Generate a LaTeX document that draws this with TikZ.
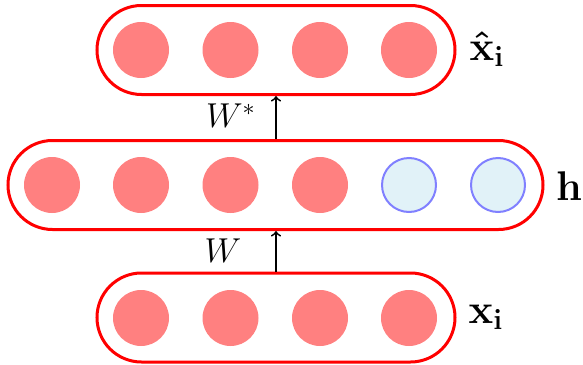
\documentclass[tikz,border=0pt]{standalone}
\usepackage{amsmath,amssymb}
\usepackage{tikz}
\usetikzlibrary{shapes.misc}
\definecolor{paleblue}{RGB}{225,242,248}

\begin{document}
\begin{tikzpicture}[x=0.5pt,y=-0.5pt,
  unit/.style={circle,fill=red!50,minimum size=28pt,inner sep=0pt},
  extra/.style={circle,draw=blue!50,fill=paleblue,line width=1pt,minimum size=27pt,inner sep=0pt},
  layer/.style={rounded rectangle,draw=red,line width=1.5pt,minimum height=44.5pt,inner sep=0pt},
  weight/.style={scale=1.2,font=\Large}]
\useasboundingbox (0,0) rectangle (583,364);
% the three layers: output on top, code in the middle, input below
\node[layer,minimum width=179pt]   (out)  at (276,50)    {};
\node[layer,minimum width=267.5pt] (code) at (275.5,185) {};
\node[layer,minimum width=179pt]   (in)   at (276,317.5) {};
% the units of each layer
\foreach \i/\x in {1/141,2/230.5,3/320,4/409}{\node[unit] (o\i) at (\x,50) {};}
\foreach \i/\x in {1/52,2/141,3/230.5,4/320}{\node[unit] (c\i) at (\x,185) {};}
\foreach \i/\x in {5/409,6/498}{\node[extra] (c\i) at (\x,185) {};}
\foreach \i/\x in {1/141,2/230.5,3/320,4/409}{\node[unit] (i\i) at (\x,318) {};}
% the two weight maps between the layers
\draw[->,line width=0.9pt] (in.north) -- (in.north |- code.south);
\draw[->,line width=0.9pt] (code.north -| out.south) -- (out.south);
\node[weight] (w)  at (223,251) {$W$};
\node[weight] (ws) at (231,116) {$W^{*}$};
% layer names
\node (lo) at (487,49)  {\huge $\boldsymbol{\hat{\mathbf{x}}}_{\mathbf{i}}$};
\node (lc) at (569,186) {\huge $\mathbf{h}$};
\node (li) at (486,317) {\huge $\mathbf{x}_{\mathbf{i}}$};
\end{tikzpicture}
\end{document}
